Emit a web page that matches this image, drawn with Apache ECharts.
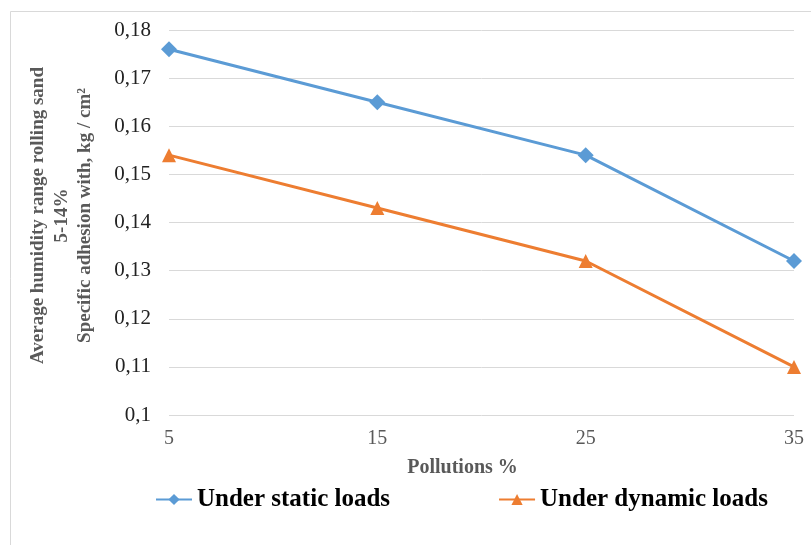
<!DOCTYPE html>
<html>
<head>
<meta charset="utf-8">
<script src="https://cdn.jsdelivr.net/npm/echarts@6/dist/echarts.min.js"></script>
<style>
  html, body { margin: 0; padding: 0; background: #fff; }
  #chart { width: 811px; height: 545px; }
</style>
</head>
<body>
<div id="chart"></div>
<script>
// Pollution levels (%) on the horizontal axis
const pollutions = ['5', '15', '25', '35'];
// Specific adhesion, kg / cm²
const staticLoads = [0.176, 0.165, 0.154, 0.132];
const dynamicLoads = [0.154, 0.143, 0.132, 0.110];
const seriesNames = ['Under static loads', 'Under dynamic loads'];

const serif = '"Times New Roman", "Liberation Serif", serif';

const chart = echarts.init(document.getElementById('chart'), null, { renderer: 'canvas' });

chart.setOption({
  backgroundColor: '#fff',
  animation: false,
  graphic: [{
    type: 'rect',
    shape: { x: 10.5, y: 11.5, width: 830, height: 560 },
    style: { fill: 'none', stroke: '#d9d9d9', lineWidth: 1 },
    silent: true
  }],
  grid: { left: 169, right: 17, top: 30, bottom: 130, containLabel: false, outerBoundsMode: 'none' },
  legend: {
    left: 150,
    top: 482,
    itemWidth: 36,
    itemHeight: 14,
    itemGap: 108,
    textStyle: { fontFamily: serif, fontSize: 25, fontWeight: 'bold', color: '#000' },
    data: seriesNames
  },
  xAxis: {
    type: 'category',
    data: pollutions,
    boundaryGap: false,
    name: 'Pollutions %',
    nameLocation: 'middle',
    nameGap: 43,
    nameTextStyle: { fontFamily: serif, fontSize: 20, fontWeight: 'bold', color: '#595959', padding: [0, 38, 0, 0] },
    axisLine: { show: false },
    axisTick: { show: false },
    axisLabel: { fontFamily: serif, fontSize: 20, color: '#595959', margin: 14 },
    splitLine: { show: false }
  },
  yAxis: {
    type: 'value',
    min: 0.1,
    max: 0.18,
    interval: 0.01,
    name: 'Average humidity range rolling sand\n5-14%\nSpecific adhesion with, kg / cm²',
    nameLocation: 'middle',
    nameGap: 72,
    nameRotate: 90,
    nameTextStyle: {
      fontFamily: serif, fontSize: 19, fontWeight: 'bold', color: '#595959',
      lineHeight: 23.5, align: 'center', padding: [0, 0, 0, 14]
    },
    axisLine: { show: false },
    axisTick: { show: false },
    axisLabel: {
      fontFamily: serif, fontSize: 21, color: '#222', margin: 18,
      formatter: v => String(+v.toFixed(2)).replace('.', ',')
    },
    splitLine: { lineStyle: { color: '#d9d9d9', width: 1 } }
  },
  series: [
    {
      name: seriesNames[0],
      type: 'line',
      data: staticLoads,
      symbol: 'diamond',
      symbolSize: 16,
      lineStyle: { color: '#5B9BD5', width: 3 },
      itemStyle: { color: '#5B9BD5' }
    },
    {
      name: seriesNames[1],
      type: 'line',
      data: dynamicLoads,
      symbol: 'triangle',
      symbolSize: 14,
      lineStyle: { color: '#ED7D31', width: 3 },
      itemStyle: { color: '#ED7D31' }
    }
  ]
});
</script>
</body>
</html>
